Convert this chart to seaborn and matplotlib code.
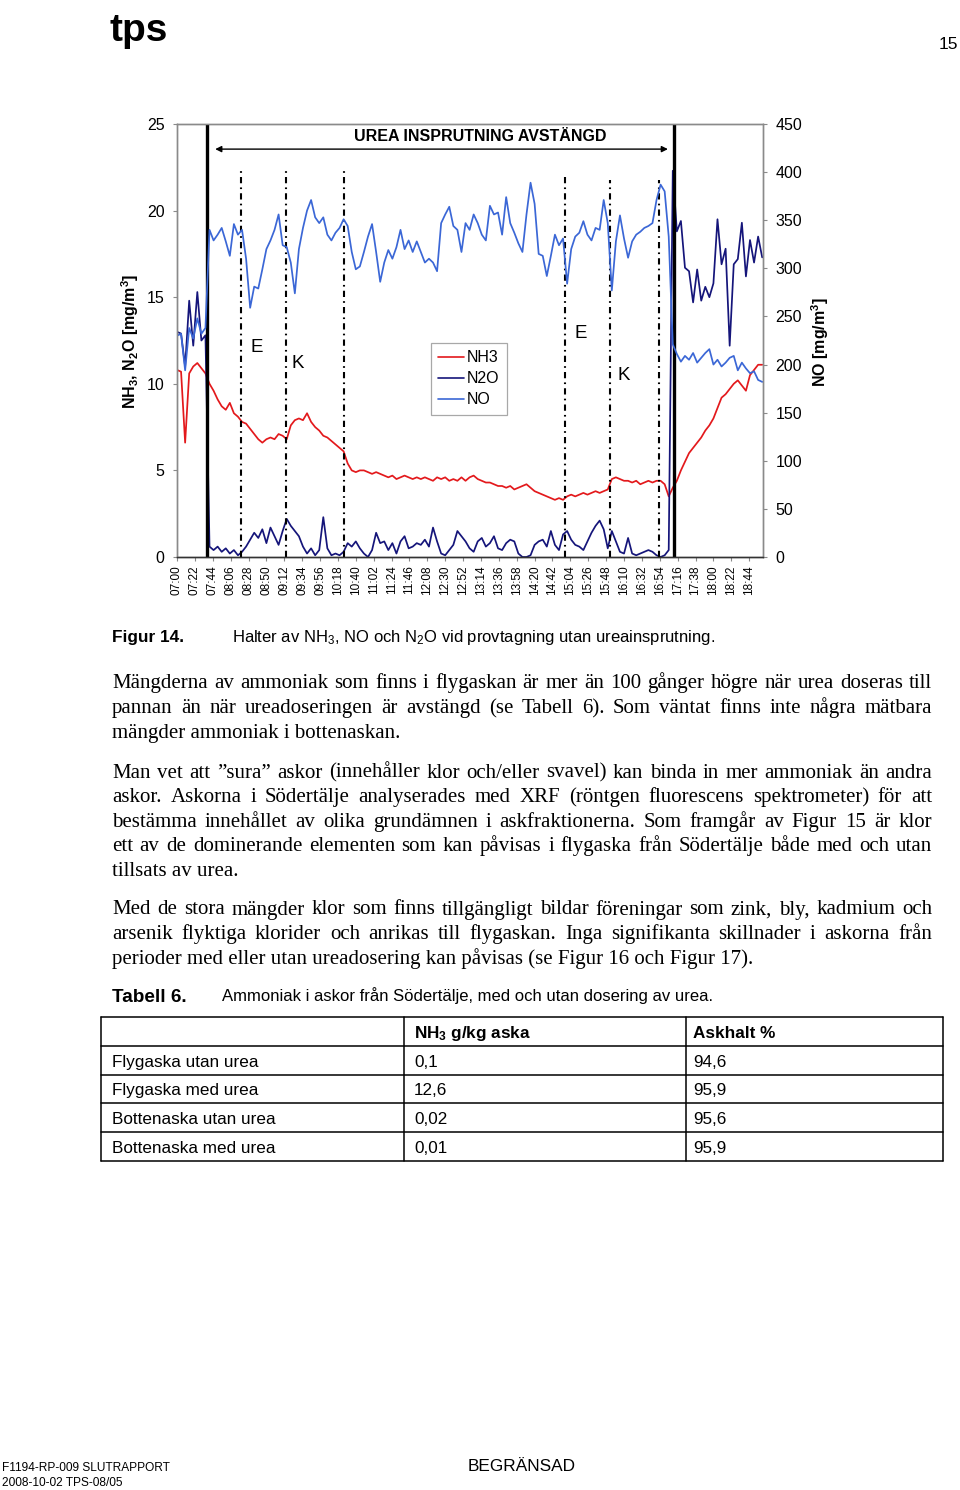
import numpy as np
import pandas as pd
import matplotlib
matplotlib.use("Agg")
import matplotlib.pyplot as plt
from matplotlib.lines import Line2D
import seaborn as sns


# -----------------------------
# Data (5 min sampling from 07:00)
# -----------------------------
STEP_MIN = 5

# NH3 [mg/m3], left axis
NH3 = [10.8, 10.7, 6.6, 10.6, 11.0, 11.2, 10.9, 10.6, 10.0, 9.6,
       9.1, 8.7, 8.5, 8.9, 8.3, 8.1, 7.8, 7.7, 7.4, 7.1,
       6.8, 6.6, 6.8, 6.9, 6.8, 7.1, 7.0, 6.8, 7.6, 7.9,
       8.0, 7.9, 8.3, 7.8, 7.5, 7.3, 7.0, 6.9, 6.7, 6.5,
       6.3, 6.1, 5.4, 5.0, 4.9, 5.0, 5.0, 4.9, 4.8, 4.9,
       4.8, 4.7, 4.6, 4.7, 4.5, 4.6, 4.7, 4.6, 4.5, 4.6,
       4.5, 4.6, 4.5, 4.4, 4.6, 4.5, 4.6, 4.4, 4.5, 4.4,
       4.6, 4.4, 4.6, 4.7, 4.5, 4.4, 4.3, 4.3, 4.2, 4.1,
       4.1, 4.0, 4.1, 3.9, 4.0, 4.1, 4.2, 4.0, 3.8, 3.7,
       3.6, 3.5, 3.4, 3.3, 3.4, 3.3, 3.5, 3.6, 3.5, 3.6,
       3.7, 3.6, 3.7, 3.8, 3.7, 3.8, 3.9, 4.5, 4.6, 4.5,
       4.4, 4.4, 4.3, 4.4, 4.2, 4.3, 4.4, 4.3, 4.4, 4.4,
       4.2, 3.5, 4.0, 4.4, 5.0, 5.5, 6.0, 6.3, 6.6, 6.9,
       7.3, 7.6, 8.0, 8.6, 9.2, 9.4, 9.7, 10.0, 10.2, 9.9,
       9.6, 10.5, 10.8, 11.1, 11.1]

# N2O [mg/m3], left axis
N2O = [13.0, 12.9, 11.0, 14.8, 12.2, 15.3, 12.5, 12.8, 0.6, 0.4,
       0.6, 0.3, 0.5, 0.2, 0.4, 0.1, 0.3, 0.6, 1.0, 1.4,
       1.1, 1.6, 0.8, 1.7, 1.2, 0.7, 1.5, 2.2, 1.8, 1.5,
       1.2, 0.6, 0.2, 0.5, 0.1, 0.4, 2.3, 0.5, 0.1, 0.2,
       0.1, 0.3, 0.8, 0.6, 0.9, 0.5, 0.2, 0.0, 0.4, 1.4,
       0.8, 0.9, 0.4, 0.8, 0.2, 0.9, 1.2, 0.5, 0.6, 0.8,
       0.7, 1.0, 0.6, 1.7, 0.9, 0.2, 0.1, 0.4, 0.7, 1.5,
       1.2, 0.9, 0.5, 0.3, 0.9, 1.1, 0.6, 0.8, 1.2, 0.5,
       0.4, 0.8, 1.0, 0.9, 0.2, 0.0, 0.0, 0.1, 0.7, 0.9,
       1.0, 0.6, 1.5, 0.7, 0.4, 1.3, 1.5, 1.0, 0.7, 0.6,
       0.4, 0.9, 1.4, 1.8, 2.1, 1.6, 0.5, 1.5, 0.9, 0.3,
       0.2, 1.1, 0.2, 0.1, 0.2, 0.3, 0.4, 0.3, 0.1, 0.0,
       0.1, 0.4, 22.3, 18.8, 19.4, 16.7, 16.5, 14.7, 16.6, 14.8,
       15.6, 15.0, 15.8, 19.5, 16.9, 17.8, 12.2, 16.9, 17.2, 19.3,
       16.2, 18.3, 17.0, 18.5, 17.3]

# NO [mg/m3], right axis
NO = [230, 232, 194, 238, 227, 248, 232, 238, 340, 329,
      335, 342, 328, 313, 346, 335, 340, 310, 259, 281,
      279, 299, 320, 329, 340, 356, 324, 322, 306, 274,
      320, 342, 360, 371, 353, 347, 353, 335, 329, 337,
      342, 351, 344, 317, 299, 302, 317, 333, 346, 317,
      286, 306, 319, 310, 322, 340, 320, 329, 317, 328,
      317, 306, 310, 306, 297, 347, 356, 364, 344, 340,
      317, 347, 340, 356, 347, 335, 329, 365, 356, 358,
      335, 374, 347, 337, 326, 317, 356, 389, 367, 315,
      313, 292, 313, 335, 324, 331, 284, 320, 333, 337,
      349, 335, 329, 342, 340, 371, 347, 277, 328, 355,
      331, 311, 328, 335, 338, 342, 344, 347, 371, 387,
      380, 333, 221, 211, 203, 209, 205, 212, 202, 207,
      212, 216, 200, 205, 198, 202, 207, 209, 194, 202,
      196, 191, 193, 184, 182]

TIME_LABELS = ["07:00", "07:22", "07:44", "08:06", "08:28", "08:50", "09:12",
               "09:34", "09:56", "10:18", "10:40", "11:02", "11:24", "11:46",
               "12:08", "12:30", "12:52", "13:14", "13:36", "13:58", "14:20",
               "14:42", "15:04", "15:26", "15:48", "16:10", "16:32", "16:54",
               "17:16", "17:38", "18:00", "18:22", "18:44"]
LEFT_TICKS = [0, 5, 10, 15, 20, 25]
RIGHT_TICKS = [0, 50, 100, 150, 200, 250, 300, 350, 400, 450]

# event markers (minutes after 07:00)
SOLID_EVENTS = [37, 612]
DASHDOT_EVENTS = [79, 134, 205, 478, 533, 593]
DASHDOT_TOP = [0.90, 0.90, 0.90, 0.88, 0.87, 0.87]
PHASE_TEXT = ["E", "K", "E", "K"]
PHASE_X = [98, 149, 497, 550]
PHASE_Y = [12.1, 11.2, 12.9, 10.5]

# -----------------------------
# Page text
# -----------------------------
PARAGRAPHS = [
    (681, ["Mängderna av ammoniak som finns i flygaskan är mer än 100 gånger högre när urea doseras till",
           "pannan än när ureadoseringen är avstängd (se Tabell 6). Som väntat finns inte några mätbara",
           "mängder ammoniak i bottenaskan."]),
    (770, ["Man vet att \u201dsura\u201d askor (innehåller klor och/eller svavel) kan binda in mer ammoniak än andra",
           "askor. Askorna i Södertälje analyserades med XRF (röntgen fluorescens spektrometer) för att",
           "bestämma innehållet av olika grundämnen i askfraktionerna. Som framgår av Figur 15 är klor",
           "ett av de dominerande elementen som kan påvisas i flygaska från Södertälje både med och utan",
           "tillsats av urea."]),
    (907, ["Med de stora mängder klor som finns tillgängligt bildar föreningar som zink, bly, kadmium och",
           "arsenik flyktiga klorider och anrikas till flygaskan. Inga signifikanta skillnader i askorna från",
           "perioder med eller utan ureadosering kan påvisas (se Figur 16 och Figur 17)."]),
]

TABLE_HEADER = ["", "NH$_3$ g/kg aska", "Askhalt %"]
TABLE_NAMES = ["Flygaska utan urea", "Flygaska med urea", "Bottenaska utan urea", "Bottenaska med urea"]
TABLE_NH3 = ["0,1", "12,6", "0,02", "0,01"]
TABLE_ASH = ["94,6", "95,9", "95,6", "95,9"]

# -----------------------------
# Style
# -----------------------------
W, H = 960, 1490
RED = "#e3191c"
NAVY = "#15157a"
BLUE = "#3b67d6"
GRAY = "#8a8a8a"
SERIF = ["Liberation Serif", "DejaVu Serif"]

sns.set_style("white")
plt.rcParams["font.family"] = ["Liberation Sans", "DejaVu Sans"]
plt.rcParams["text.color"] = "black"
plt.rcParams["xtick.color"] = "black"
plt.rcParams["ytick.color"] = "black"
plt.rcParams["axes.labelcolor"] = "black"
plt.rcParams["mathtext.fontset"] = "custom"
plt.rcParams["mathtext.rm"] = "Liberation Sans"
plt.rcParams["mathtext.bf"] = "Liberation Sans:bold"
plt.rcParams["mathtext.default"] = "regular"


def fx(x):
    return x / W


def fy(y):
    return 1 - y / H


def put(x, y, s, size, **kw):
    # y is the visual centre of the line, converted to a baseline
    base = y + 0.36 * size * 100 / 72
    return fig.text(fx(x), fy(base), s, fontsize=size, va="baseline", **kw)


def series_frame(values):
    return pd.DataFrame({"minute": np.arange(len(values)) * STEP_MIN, "value": values})


fig = plt.figure(figsize=(W / 100, H / 100), dpi=100)

# -----------------------------
# Chart
# -----------------------------
ax = fig.add_axes([fx(177), fy(557), fx(763) - fx(177), fy(124) - fy(557)])
ax2 = ax.twinx()

sns.lineplot(data=series_frame(NH3), x="minute", y="value", ax=ax, color=RED,
             lw=1.25, estimator=None, legend=False)
sns.lineplot(data=series_frame(N2O), x="minute", y="value", ax=ax, color=NAVY,
             lw=1.25, estimator=None, legend=False)
sns.lineplot(data=series_frame(NO), x="minute", y="value", ax=ax2, color=BLUE,
             lw=1.25, estimator=None, legend=False)

tick_pos = [(int(t[:2]) - 7) * 60 + int(t[3:]) for t in TIME_LABELS]
ax.set_xlim(0, 721)
ax.set_ylim(0, 25)
ax2.set_ylim(0, 450)
ax.set_xticks(tick_pos)
ax.set_xticklabels(TIME_LABELS, rotation=90)
ax.set_yticks(LEFT_TICKS)
ax2.set_yticks(RIGHT_TICKS)
for a in (ax, ax2):
    a.set_xlabel("")
    a.set_ylabel("")
    for side in ("left", "right", "top"):
        a.spines[side].set_color(GRAY)
        a.spines[side].set_linewidth(1.0)
    a.spines["bottom"].set_color("#333333")
    a.spines["bottom"].set_linewidth(1.0)
ax.tick_params(axis="y", length=3, color=GRAY, pad=6, labelsize=11.5, direction="out", left=True)
ax2.tick_params(axis="y", length=3, color=GRAY, pad=6, labelsize=11.5, direction="out", right=True)
ax.tick_params(axis="x", length=3, color=GRAY, pad=3, labelsize=8.5, direction="out", bottom=True)

for x in SOLID_EVENTS:
    ax.axvline(x, color="black", lw=2.4, zorder=5)
for x, top in zip(DASHDOT_EVENTS, DASHDOT_TOP):
    ax.axvline(x, ymin=0, ymax=top, color="black", lw=1.5,
               linestyle=(0, (3, 2, 0.8, 2)), zorder=5)

for s, x, y in zip(PHASE_TEXT, PHASE_X, PHASE_Y):
    ax.text(x, y, s, fontsize=13.5, ha="center", va="center")

ax.annotate("", xy=(604, 23.55), xytext=(47, 23.55),
            arrowprops=dict(arrowstyle="<|-|>", color="black", lw=1.0,
                            mutation_scale=9, shrinkA=0, shrinkB=0))
ax.text(373, 24.3, "UREA INSPRUTNING AVSTÄNGD", ha="center", va="center",
        fontsize=11.5, fontweight="bold")

handles = [Line2D([], [], color=c, lw=1.2) for c in (RED, NAVY, BLUE)]
leg = ax2.legend(handles, ["NH3", "N2O", "NO"], loc="upper left",
                 bbox_to_anchor=(fx(431), fy(343)), bbox_transform=fig.transFigure,
                 frameon=True, fancybox=False, framealpha=1, edgecolor="#a8a8a8",
                 fontsize=11.5, handlelength=1.6, handletextpad=0.2,
                 labelspacing=0.38, borderpad=0.45, borderaxespad=0)
leg.get_frame().set_linewidth(0.9)

fig.text(fx(130), fy(341), "NH$_3$, N$_2$O [mg/m$^3$]", rotation=90, ha="center",
         va="center", fontsize=11.5, fontweight="bold")
fig.text(fx(820), fy(342), "NO [mg/m$^3$]", rotation=90, ha="center",
         va="center", fontsize=11.5, fontweight="bold")

# -----------------------------
# Page header / caption
# -----------------------------
fig.text(fx(110), fy(41), "tps", fontsize=28, fontweight="heavy", va="baseline",
         color="black")
put(948, 43, "15", 12.5, ha="center")

put(112, 636, "Figur 14.", 12.4, fontweight="bold")
put(232, 636, "Halter av NH$_3$, NO och N$_2$O vid provtagning utan ureainsprutning.", 12.0)

# -----------------------------
# Body text, justified
# -----------------------------
renderer = fig.canvas.get_renderer()
BODY_SIZE = 15
LEFT, RIGHT = 112, 932
for y0, lines in PARAGRAPHS:
    for i, line in enumerate(lines):
        y = y0 + i * 24.6
        if i == len(lines) - 1:
            put(LEFT, y, line, BODY_SIZE, family=SERIF)
            continue
        words = line.split(" ")
        texts = [put(LEFT, y, w, BODY_SIZE, family=SERIF) for w in words]
        widths = [t.get_window_extent(renderer=renderer).width for t in texts]
        gap = (RIGHT - LEFT - sum(widths)) / (len(words) - 1)
        xpos = LEFT
        for t, w in zip(texts, widths):
            t.set_x(fx(xpos))
            xpos += w + gap

# -----------------------------
# Table 6
# -----------------------------
put(112, 995, "Tabell 6.", 13.6, fontweight="bold")
put(222, 995, "Ammoniak i askor från Södertälje, med och utan dosering av urea.", 12.0)

row_lines = [1017, 1046, 1075, 1103, 1132, 1161]
col_lines = [101, 404, 686, 943]
for y in row_lines:
    fig.add_artist(Line2D([fx(101), fx(943)], [fy(y), fy(y)], color="black",
                          lw=1.1, transform=fig.transFigure))
for x in col_lines:
    fig.add_artist(Line2D([fx(x), fx(x)], [fy(1017), fy(1161)], color="black",
                          lw=1.1, transform=fig.transFigure))

TABLE_SIZE = 12.3
head_y = (row_lines[0] + row_lines[1]) / 2
for x, s in zip([112, 414, 693], TABLE_HEADER):
    put(x, head_y, s, TABLE_SIZE, fontweight="bold")
for i, (name, nh3, ash) in enumerate(zip(TABLE_NAMES, TABLE_NH3, TABLE_ASH)):
    y = (row_lines[i + 1] + row_lines[i + 2]) / 2
    put(112, y, name, TABLE_SIZE)
    put(414, y, nh3, TABLE_SIZE)
    put(693, y, ash, TABLE_SIZE)

# -----------------------------
# Footer
# -----------------------------
put(2, 1467, "F1194-RP-009 SLUTRAPPORT", 8.6)
put(2, 1482, "2008-10-02 TPS-08/05", 8.6)
put(522, 1465, "BEGRÄNSAD", 12.4, ha="center")

fig.savefig("out.png", dpi=100)
